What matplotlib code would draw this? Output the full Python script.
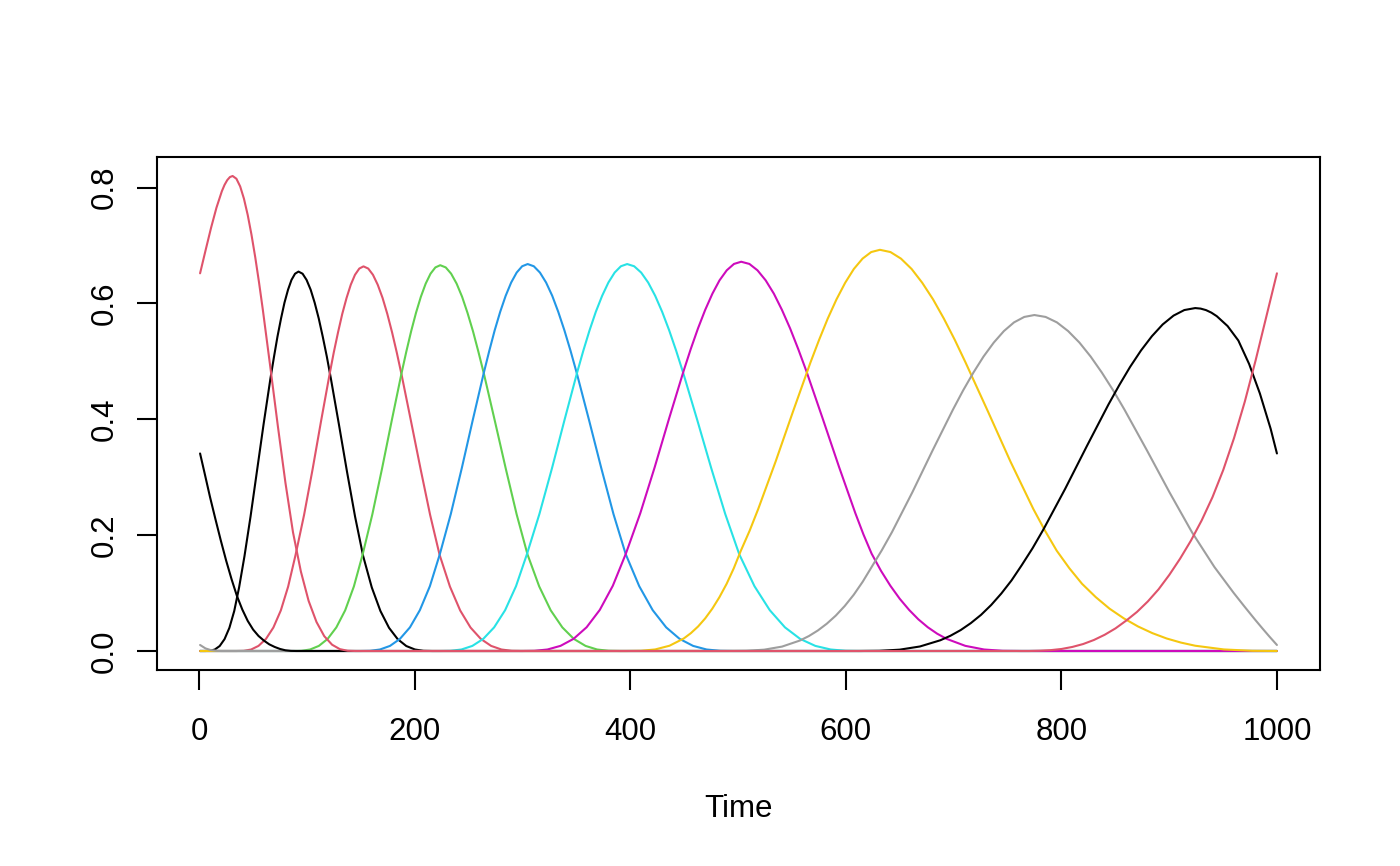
import matplotlib
matplotlib.use("Agg")
import matplotlib.pyplot as plt

plt.rcParams['font.family'] = ['Liberation Sans', 'DejaVu Sans']

# columnas de la base, tiempo y valor de cada una
t1 = [1, 5.7, 10.2, 14.7, 19.2, 23.7, 28.2, 32.7, 37.2, 42.2, 47.8, 53.7, 59.9, 66.3, 69.6, 72.8, 76.1,
      79.3, 82.6, 85.8, 89.1, 92.3, 96.1, 99.8, 103.6, 107.3, 111.1, 114.8, 118.6, 122.3, 129.8, 137.3,
      144.8, 152.3, 160.3, 168.3, 176.3, 184.3, 192.3, 200.3, 208.3, 216.3, 1000]
b1 = [0, 0, 0.0003, 0.0026, 0.0086, 0.0205, 0.0400, 0.0691, 0.1097, 0.1638, 0.2319, 0.3096, 0.3912,
      0.4708, 0.5081, 0.5427, 0.5740, 0.6013, 0.6237, 0.6406, 0.6513, 0.655, 0.6513, 0.6406, 0.6237,
      0.6013, 0.5740, 0.5427, 0.5081, 0.4708, 0.3912, 0.3096, 0.2319, 0.1638, 0.1097, 0.0691, 0.0400,
      0.0205, 0.0086, 0.0026, 0.0003, 0, 0]

t2 = [1, 34.6, 41.5, 48.4, 55.2, 62.1, 69.0, 75.9, 82.7, 89.6, 97.5, 105.4, 113.2, 121.1, 125.0, 129.0,
      132.9, 136.9, 140.8, 144.7, 148.7, 152.6, 157.0, 161.4, 165.8, 170.3, 174.7, 179.1, 183.5, 187.9,
      196.7, 205.6, 214.4, 223.2, 232.8, 242.3, 251.9, 261.5, 271.0, 280.6, 290.1, 299.7, 1000]
b2 = [0, 0, 0.0003, 0.0026, 0.0088, 0.0208, 0.0405, 0.0700, 0.1112, 0.166, 0.2351, 0.3139, 0.3965,
      0.4773, 0.5151, 0.5502, 0.5819, 0.6095, 0.6323, 0.6494, 0.6602, 0.664, 0.6602, 0.6494, 0.6323,
      0.6095, 0.5819, 0.5502, 0.5151, 0.4773, 0.3965, 0.3139, 0.2351, 0.166, 0.1112, 0.0700, 0.0405,
      0.0208, 0.0088, 0.0026, 0.0003, 0, 0]

t3 = [1, 86.8, 94.9, 103.1, 111.2, 119.3, 127.4, 135.6, 143.7, 151.8, 160.8, 169.8, 178.8, 187.8, 192.3,
      196.8, 201.3, 205.8, 210.3, 214.8, 219.3, 223.8, 228.9, 233.9, 239.0, 244.1, 249.1, 254.2, 259.2,
      264.3, 274.4, 284.6, 294.7, 304.8, 315.6, 326.3, 337.1, 347.8, 358.6, 369.3, 380.1, 390.8, 1000]
b3 = [0, 0, 0.0003, 0.0026, 0.0088, 0.0208, 0.0407, 0.0702, 0.1115, 0.1665, 0.2358, 0.3148, 0.3977,
      0.4787, 0.5166, 0.5519, 0.5837, 0.6114, 0.6342, 0.6514, 0.6622, 0.666, 0.6622, 0.6514, 0.6342,
      0.6114, 0.5837, 0.5519, 0.5166, 0.4787, 0.3977, 0.3148, 0.2358, 0.1665, 0.1115, 0.0702, 0.0407,
      0.0208, 0.0088, 0.0026, 0.0003, 0, 0]

t4 = [1, 149.4, 158.7, 167.9, 177.2, 186.4, 195.7, 204.9, 214.2, 223.4, 233.6, 243.8, 254.0, 264.2,
      269.3, 274.3, 279.4, 284.5, 289.6, 294.7, 299.8, 304.9, 310.6, 316.3, 322.0, 327.7, 333.3, 339.0,
      344.7, 350.4, 361.8, 373.2, 384.5, 395.9, 408.4, 420.9, 433.4, 445.9, 458.4, 470.9, 483.4, 495.9,
      1000]
b4 = [0, 0, 0.0003, 0.0026, 0.0088, 0.0209, 0.0408, 0.0705, 0.1119, 0.167, 0.2365, 0.3157, 0.3989,
      0.4801, 0.5182, 0.5535, 0.5854, 0.6132, 0.6361, 0.6533, 0.6642, 0.668, 0.6642, 0.6533, 0.6361,
      0.6132, 0.5854, 0.5535, 0.5182, 0.4801, 0.3989, 0.3157, 0.2365, 0.167, 0.1119, 0.0705, 0.0408,
      0.0209, 0.0088, 0.0026, 0.0003, 0, 0]

t5 = [1, 223.2, 233.3, 243.5, 253.6, 263.7, 273.8, 284.0, 294.1, 304.2, 315.8, 327.5, 339.1, 350.7,
      356.5, 362.3, 368.1, 374.0, 379.8, 385.6, 391.4, 397.2, 403.7, 410.2, 416.7, 423.2, 429.7, 436.2,
      442.7, 449.2, 462.2, 475.2, 488.2, 501.2, 515.3, 529.5, 543.6, 557.7, 571.8, 586.0, 600.1, 614.2,
      1000]
b5 = [0, 0, 0.0003, 0.0026, 0.0088, 0.0209, 0.0408, 0.0705, 0.1119, 0.167, 0.2365, 0.3157, 0.3989,
      0.4801, 0.5182, 0.5535, 0.5854, 0.6132, 0.6361, 0.6533, 0.6642, 0.668, 0.6642, 0.6533, 0.6361,
      0.6132, 0.5854, 0.5535, 0.5182, 0.4801, 0.3989, 0.3157, 0.2365, 0.167, 0.1119, 0.0705, 0.0408,
      0.0209, 0.0088, 0.0026, 0.0003, 0, 0]

t6 = [1, 299.0, 311.1, 323.3, 335.4, 347.5, 359.6, 371.8, 383.9, 396.0, 409.4, 422.8, 436.1, 449.5,
      456.2, 462.9, 469.6, 476.3, 482.9, 489.6, 496.3, 503.0, 510.6, 518.1, 525.7, 533.3, 540.8, 548.4,
      555.9, 563.5, 578.6, 593.8, 608.9, 616.4, 624.0, 632.7, 641.4, 650.1, 658.8, 667.4, 676.1, 684.8,
      693.5, 710.9, 728.3, 745.6, 763.0, 1000]
b6 = [0, 0, 0.0003, 0.0026, 0.0089, 0.021, 0.0410, 0.0709, 0.1126, 0.168, 0.2379, 0.3176, 0.4013,
      0.483, 0.5213, 0.5568, 0.5889, 0.6169, 0.6399, 0.6572, 0.6682, 0.672, 0.6682, 0.6572, 0.6399,
      0.6169, 0.5889, 0.5568, 0.5213, 0.483, 0.4013, 0.3176, 0.2379, 0.2013, 0.168, 0.1384, 0.1126,
      0.0901, 0.0709, 0.0546, 0.0410, 0.0299, 0.021, 0.0089, 0.0026, 0.0003, 0, 0]

t7 = [1, 396.7, 410.0, 423.2, 436.5, 449.7, 456.3, 463.0, 469.6, 476.2, 482.8, 489.5, 496.1, 502.7,
      510.8, 518.8, 535.0, 551.1, 567.2, 575.3, 583.3, 591.4, 599.5, 607.5, 615.6, 623.6, 631.7, 641.5,
      651.2, 661.1, 670.9, 681.0, 691.0, 701.1, 711.2, 731.9, 752.7, 774.0, 784.9, 795.7, 807.5, 819.2,
      832.0, 844.7, 858.0, 871.2, 884.5, 897.7, 911.0, 924.2, 950.7, 977.2, 1000]
b7 = [0, 0, 0.0003, 0.0027, 0.0091, 0.0216, 0.0308, 0.0423, 0.0563, 0.0731, 0.0929, 0.1160, 0.1427,
      0.1732, 0.2075, 0.2452, 0.3274, 0.4136, 0.4978, 0.5373, 0.5739, 0.6070, 0.6358, 0.6595, 0.6774,
      0.6887, 0.6926, 0.6887, 0.6774, 0.6595, 0.6358, 0.6070, 0.5739, 0.5373, 0.4978, 0.4136, 0.3274,
      0.2452, 0.2075, 0.1732, 0.1427, 0.1160, 0.0929, 0.0731, 0.0563, 0.0423, 0.0308, 0.0216, 0.0145,
      0.0091, 0.0027, 0.0003, 0]

t8 = [1, 6, 11, 16, 21, 491.0, 507.6, 524.3, 540.9, 557.5, 565.8, 574.1, 582.4, 590.8, 599.1, 607.4,
      615.7, 624.0, 633.4, 642.9, 661.8, 680.6, 699.5, 708.9, 718.4, 727.8, 737.3, 746.7, 756.1, 765.6,
      775.0, 785.4, 795.9, 806.3, 816.8, 827.2, 837.6, 848.1, 858.5, 879.4, 900.3, 921.1, 942.0, 950,
      960, 970, 980, 987, 993, 1000]
b8 = [0.0104, 0.0045, 0.0015, 0.0003, 0, 0, 0.0003, 0.0023, 0.0076, 0.0181, 0.0258, 0.0354, 0.0471,
      0.0612, 0.0778, 0.0971, 0.1195, 0.145, 0.1738, 0.2053, 0.2741, 0.3464, 0.4169, 0.4499, 0.4806,
      0.5083, 0.5324, 0.5523, 0.5673, 0.5767, 0.58, 0.5767, 0.5673, 0.5523, 0.5324, 0.5083, 0.4806,
      0.4499, 0.4169, 0.3464, 0.2741, 0.2053, 0.145, 0.125, 0.100, 0.0765, 0.0535, 0.038, 0.025, 0.0104]

t9 = [1, 5.2, 10.2, 15.2, 20.2, 25.2, 30.2, 35.2, 40.2, 45.2, 50.2, 55.2, 60.2, 65.2, 70.2, 75.2, 80.2,
      85.2, 90.2, 612.2, 631.1, 650.0, 668.8, 687.7, 697.1, 706.6, 716.0, 725.5, 734.9, 744.3, 753.8,
      763.2, 773.3, 783.3, 803.5, 823.6, 843.7, 853.8, 863.8, 873.9, 884.0, 894.0, 904.1, 914.1, 924.2,
      929.2, 934.2, 939.2, 944.2, 954.2, 964.2, 974.2, 984.2, 994.2, 1000]
b9 = [0.341, 0.307, 0.266, 0.228, 0.191, 0.156, 0.124, 0.095, 0.0715, 0.052, 0.037, 0.026, 0.018,
      0.0115, 0.007, 0.0035, 0.0012, 0.0002, 0, 0, 0.0003, 0.0023, 0.0078, 0.0185, 0.0263, 0.0361,
      0.0481, 0.0624, 0.0794, 0.0992, 0.1219, 0.148, 0.1774, 0.2096, 0.2798, 0.3535, 0.4255, 0.4592,
      0.4905, 0.5188, 0.5434, 0.5637, 0.579, 0.5886, 0.592, 0.5911, 0.5885, 0.5841, 0.578, 0.561, 0.536,
      0.4955, 0.4445, 0.3835, 0.341]

t10 = [1, 6.2, 11.2, 16.2, 21.2, 23.7, 26.2, 28.7, 31.2, 34.7, 38.2, 41.7, 45.2, 48.7, 52.2, 55.7, 59.2,
       66.2, 73.2, 80.2, 87.2, 94.5, 101.7, 109.0, 116.2, 123.5, 130.7, 138.0, 145.2, 770.2, 780.2,
       790.2, 800.2, 810.2, 820.2, 830.2, 840.2, 850.2, 860.2, 870.2, 880.2, 890.2, 900.2, 910.2, 920.2,
       930.2, 940.2, 950.2, 960.2, 970.2, 980.2, 990.2, 1000]
b10 = [0.652, 0.6925, 0.7306, 0.7653, 0.7937, 0.8047, 0.8129, 0.8182, 0.820, 0.8153, 0.802, 0.7808,
       0.7527, 0.7186, 0.6795, 0.6361, 0.5894, 0.4897, 0.3876, 0.2903, 0.205, 0.1373, 0.0865, 0.0501,
       0.0256, 0.0108, 0.0032, 0.0004, 0, 0, 0.0005, 0.0015, 0.0035, 0.007, 0.012, 0.019, 0.028, 0.039,
       0.0525, 0.0675, 0.0855, 0.1065, 0.1315, 0.1595, 0.1905, 0.2255, 0.2655, 0.3125, 0.3675, 0.4305,
       0.5015, 0.5775, 0.652]

tiempos = [t1, t2, t3, t4, t5, t6, t7, t8, t9, t10]
bases = [b1, b2, b3, b4, b5, b6, b7, b8, b9, b10]
# paleta por defecto de R (se repite desde la columna 9)
colores = ["#000000", "#DF536B", "#61D04F", "#2297E6", "#28E2E5",
           "#CD0BBC", "#F5C710", "#9E9E9E", "#000000", "#DF536B"]

x_ticks = [0, 200, 400, 600, 800, 1000]
y_ticks = [0.0, 0.2, 0.4, 0.6, 0.8]
y_labels = ["0.0", "0.2", "0.4", "0.6", "0.8"]

fig = plt.figure(figsize=(14, 8.66), dpi=100)
ax = fig.add_axes([157 / 1400, 1 - 670 / 866, 1163 / 1400, 513 / 866])

for t, b, c in zip(tiempos, bases, colores):
    ax.plot(t, b, color=c, lw=1.5, solid_joinstyle='round', solid_capstyle='round')

ax.margins(0.04)
ax.set_xticks(x_ticks)
ax.set_xticklabels([str(v) for v in x_ticks])
ax.set_yticks(y_ticks)
ax.set_yticklabels(y_labels, rotation=90, va='center')

for s in ax.spines.values():
    s.set_linewidth(1.5)
ax.tick_params(direction='out', length=14.4, width=1.5, labelsize=22.5)
ax.tick_params(axis='x', pad=19.5)
ax.tick_params(axis='y', pad=12.5)

fig.text(738.5 / 1400, 1 - 817 / 866, "Time", ha='center', va='baseline', fontsize=22.5)

fig.savefig("out.png", dpi=100)
